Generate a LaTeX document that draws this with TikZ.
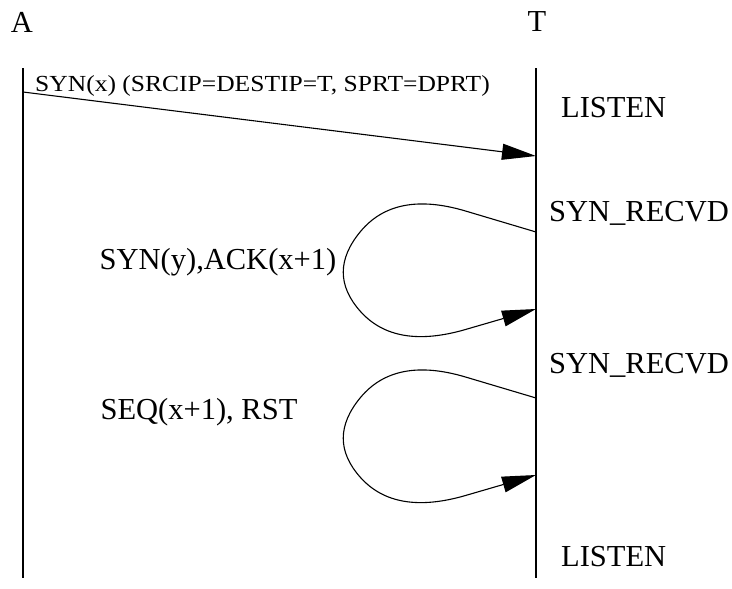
\documentclass[tikz,border=0pt]{standalone}
\usepackage{fontspec}
\setmainfont{Liberation Serif}
\usetikzlibrary{arrows.meta,calc}
\begin{document}
\begin{tikzpicture}[x=1pt,y=-1pt,
  big/.style={font=\fontsize{30.5}{30.5}\selectfont, inner sep=0pt},
  small/.style={font=\fontsize{23}{23}\selectfont, inner sep=0pt, xscale=1.11},
  lifeline/.style={line width=1.1pt},
  msg/.style={line width=1.1pt, -{Triangle[length=34pt,width=16pt]}},
  loopmsg/.style={line width=1.1pt, -{Triangle[length=34pt,width=16pt]}}]
\useasboundingbox (0,0) rectangle (732,589);
\node[big] (A) at (22,22) {A};
\node[big] (T) at (537,22) {T};
\coordinate (a0) at (23,68);
\coordinate (a1) at (23,578);
\coordinate (t0) at (536,68);
\coordinate (t1) at (536,578);
\draw[lifeline] (a0) -- (a1);
\draw[lifeline] (t0) -- (t1);
% message 1
\coordinate (m1s) at (23,92);
\coordinate (m1e) at (536,156);
\draw[msg] (m1s) -- (m1e);
\node[small, anchor=base west] (l1) at (35,91) {SYN(x) (SRCIP=DESTIP=T, SPRT=DPRT)};
% self loops (quadratic B-splines)
\foreach \dy in {0,166} {
  \coordinate (P0) at (536,{232+\dy});
  \coordinate (P1) at (395,{190+\dy});
  \coordinate (P2) at (326,{273+\dy});
  \coordinate (P3) at (395,{350+\dy});
  \coordinate (P4) at (536,{309+\dy});
  \coordinate (M01) at ($(P0)!0.5!(P1)$);
  \coordinate (M12) at ($(P1)!0.5!(P2)$);
  \coordinate (M23) at ($(P2)!0.5!(P3)$);
  \coordinate (M34) at ($(P3)!0.5!(P4)$);
  \draw[loopmsg] (P0) -- (M01)
    .. controls ($(M01)!2/3!(P1)$) and ($(M12)!2/3!(P1)$) .. (M12)
    .. controls ($(M12)!2/3!(P2)$) and ($(M23)!2/3!(P2)$) .. (M23)
    .. controls ($(M23)!2/3!(P3)$) and ($(M34)!2/3!(P3)$) .. (M34)
    -- (P4);
}
\node[big] (l2) at (218,262) {SYN(y),ACK(x+1)};
\node[big] (l3) at (199,412) {SEQ(x+1), RST};
% states
\node[big, anchor=west] (s1) at (561,108) {LISTEN};
\node[big, anchor=west] (s2) at (549,213) {SYN\_RECVD};
\node[big, anchor=west] (s3) at (549,365) {SYN\_RECVD};
\node[big, anchor=west] (s4) at (561,557) {LISTEN};
\end{tikzpicture}
\end{document}
